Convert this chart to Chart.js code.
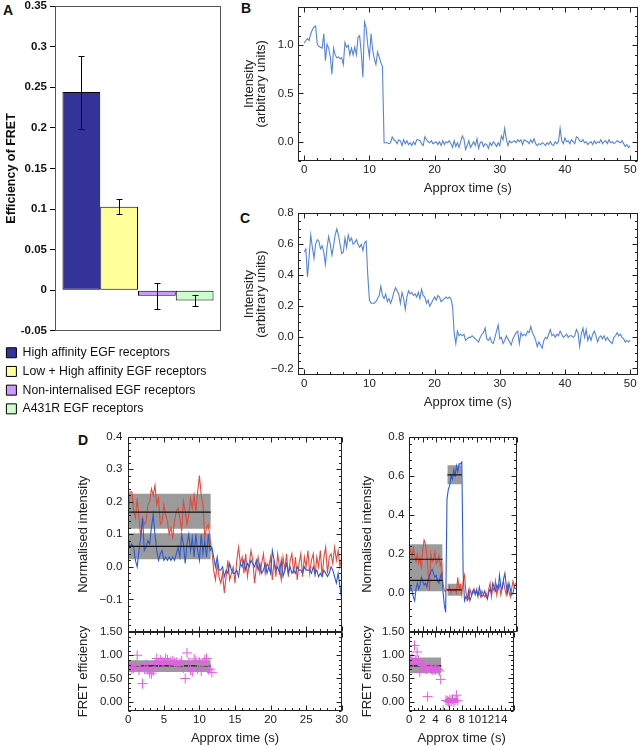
<!DOCTYPE html>
<html><head><meta charset="utf-8">
<script src="https://cdn.jsdelivr.net/npm/chart.js@4.4.1/dist/chart.umd.min.js"></script>
<style>
html,body{margin:0;padding:0;background:#fff;overflow:hidden;width:640px;height:746px;position:relative;}
canvas{position:absolute;}
.lbl{position:absolute;font:bold 14px 'Liberation Sans',Arial,sans-serif;line-height:14px;color:#111;}
</style></head><body>
<div class="lbl" style="left:3px;top:3px">A</div>
<div class="lbl" style="left:241px;top:1px">B</div>
<div class="lbl" style="left:240px;top:211px">C</div>
<div class="lbl" style="left:78px;top:433px">D</div>
<canvas id="cA"></canvas>
<canvas id="cB"></canvas>
<canvas id="cC"></canvas>
<canvas id="cDLT"></canvas>
<canvas id="cDLB"></canvas>
<canvas id="cDRT"></canvas>
<canvas id="cDRB"></canvas>
<script>
// ---------- Panel A data ----------
const aCategories = ['High affinity EGF receptors','Low + High affinity EGF receptors','Non-internalised EGF receptors','A431R EGF receptors'];
const aValues = [0.244, 0.103, -0.0068, -0.0127];
const aErrors = [0.045, 0.0093, 0.016, 0.007];
const aColors = ['#333399','#ffff99','#cc99ff','#ccffcc'];
const aTicks = [-0.05,0,0.05,0.1,0.15,0.2,0.25,0.3,0.35];

// ---------- Panel B data (0.25 s sampling) ----------
const bStep = 0.25;
const bIntensity = [
1.02,1.05,1.07,1.05,1.12,1.16,1.19,1.20,1.01,0.99,0.98,0.97,1.12,0.84,1.01,0.97,0.88,0.70,0.97,0.90,
0.87,0.88,0.86,0.87,0.80,1.03,0.98,1.00,0.90,0.97,0.90,0.98,0.90,1.08,1.10,0.92,0.67,1.24,1.18,1.00,
0.88,1.12,0.95,0.86,0.80,0.93,0.88,0.82,0.78,-0.01,-0.01,-0.01,-0.02,-0.01,0.05,0.02,0.01,-0.02,0.02,0.01,
-0.04,0.02,-0.02,0.01,-0.03,-0.01,-0.04,0.00,-0.03,0.02,0.02,0.01,-0.02,-0.04,0.05,0.02,0.00,-0.01,0.01,-0.02,
-0.01,0.00,-0.03,0.00,-0.04,0.01,-0.03,0.00,-0.01,0.01,-0.02,-0.06,0.01,-0.05,-0.01,-0.06,0.00,0.06,0.03,-0.08,
-0.04,0.01,-0.06,-0.03,0.00,-0.04,0.03,-0.07,-0.01,0.00,-0.05,-0.02,-0.03,-0.07,-0.01,-0.04,0.00,-0.02,-0.05,-0.01,
-0.04,0.06,0.02,0.14,0.03,-0.04,0.01,-0.01,0.00,0.01,-0.01,0.02,0.00,0.02,-0.03,0.02,0.01,0.00,-0.02,0.02,
-0.01,0.03,-0.02,-0.04,-0.02,-0.03,-0.01,-0.02,-0.04,-0.01,-0.03,0.00,-0.03,-0.04,0.00,-0.02,0.00,0.14,0.01,-0.02,
0.04,0.00,0.01,-0.02,0.02,0.00,-0.02,0.05,0.04,0.01,0.00,0.02,-0.01,0.00,-0.03,-0.01,0.00,-0.03,0.01,-0.02,
0.00,-0.01,0.02,-0.02,0.00,0.01,-0.02,0.02,-0.01,0.00,-0.02,-0.01,0.01,0.00,-0.01,0.01,-0.02,-0.05,-0.03,-0.06,
-0.04];
const bTicksX = [0,10,20,30,40,50];
const bTicksY = [0,0.5,1.0];

// ---------- Panel C data (0.25 s sampling) ----------
const cStep = 0.25;
const cIntensity = [
0.55,0.57,0.39,0.52,0.66,0.58,0.51,0.60,0.63,0.62,0.57,0.59,0.55,0.47,0.58,0.65,0.60,0.53,0.59,0.66,
0.70,0.66,0.60,0.54,0.55,0.64,0.58,0.66,0.62,0.64,0.60,0.61,0.63,0.60,0.58,0.60,0.56,0.61,0.62,0.40,
0.24,0.22,0.22,0.22,0.23,0.25,0.27,0.33,0.27,0.25,0.28,0.23,0.25,0.22,0.25,0.29,0.32,0.30,0.28,0.22,
0.29,0.25,0.18,0.26,0.30,0.28,0.29,0.27,0.28,0.26,0.29,0.25,0.31,0.27,0.26,0.22,0.24,0.20,0.22,0.24,
0.26,0.24,0.27,0.26,0.23,0.24,0.25,0.26,0.25,0.26,0.25,0.20,0.03,-0.04,0.04,0.01,0.02,0.01,0.02,-0.02,
-0.01,0.00,0.00,0.01,0.00,-0.01,-0.02,-0.03,0.00,0.02,0.03,0.06,-0.01,-0.02,0.00,-0.03,-0.04,0.00,0.04,0.08,
-0.01,0.00,-0.04,-0.02,0.01,-0.01,-0.03,-0.05,-0.01,0.01,0.03,0.04,-0.04,0.03,0.01,0.02,0.01,0.04,0.03,0.07,
0.03,0.01,-0.02,-0.06,-0.03,-0.05,-0.07,-0.02,0.00,-0.01,0.02,0.05,0.01,0.02,0.00,0.02,0.01,0.04,0.02,0.00,
0.01,0.02,0.00,0.01,0.01,0.00,0.01,0.05,0.03,-0.06,0.02,0.06,0.00,0.05,-0.02,0.01,-0.02,0.02,0.04,0.01,
-0.03,0.00,0.01,-0.01,0.01,-0.02,0.00,-0.02,-0.03,-0.04,0.00,0.01,0.03,0.01,0.02,0.00,-0.01,-0.03,-0.02,-0.03,
-0.02];
const cTicksY = [-0.2,0,0.2,0.4,0.6,0.8];

// ---------- Panel D left (0.25 s sampling) ----------
const dlStep = 0.25;
const dlRed = [
0.16,0.23,0.23,0.17,0.15,0.21,0.15,0.09,0.15,0.13,0.14,0.19,0.20,0.24,0.22,0.25,0.19,0.21,0.13,0.14,
0.19,0.16,0.14,0.10,0.12,0.09,0.14,0.17,0.18,0.15,0.11,0.20,0.17,0.13,0.16,0.21,0.18,0.22,0.17,0.23,
0.28,0.22,0.19,0.09,0.12,0.13,0.08,0.05,-0.01,-0.04,0.01,-0.03,-0.05,-0.02,-0.08,-0.03,0.02,-0.04,-0.02,0.00,
-0.05,0.02,0.06,0.01,0.03,-0.02,0.04,-0.03,0.01,0.05,0.02,-0.05,0.00,0.03,-0.02,0.01,0.04,-0.02,0.01,0.00,
0.03,-0.04,0.02,-0.03,0.04,0.00,-0.04,0.03,-0.01,0.04,-0.03,0.02,0.04,-0.02,0.03,-0.04,0.01,0.04,-0.03,0.03,
0.00,0.05,-0.02,0.02,0.04,-0.03,0.03,0.00,0.05,-0.03,0.03,0.06,-0.02,0.03,0.04,0.01,0.06,0.02,0.05,0.00,
0.03];
const dlBlue = [
0.09,0.06,0.07,0.06,0.02,0.00,0.05,0.09,0.15,0.05,0.06,0.08,0.07,0.12,0.16,0.10,0.05,0.02,0.04,0.05,
0.02,0.03,0.02,0.03,0.02,0.03,0.02,0.04,0.06,0.03,0.10,0.07,0.01,0.07,0.10,0.05,0.09,0.03,0.10,0.05,
0.02,0.10,0.04,0.08,0.03,0.10,0.05,0.06,0.03,0.00,0.03,-0.01,-0.01,0.00,-0.03,-0.01,-0.02,0.01,-0.01,-0.02,
-0.02,-0.01,-0.03,0.01,0.00,0.02,-0.01,0.01,0.00,0.02,0.01,0.00,0.02,-0.01,0.01,-0.02,-0.01,0.01,-0.02,0.00,
-0.02,0.05,0.02,-0.01,0.00,-0.02,0.02,-0.03,-0.01,0.01,-0.02,0.00,-0.02,-0.01,-0.02,0.00,-0.01,-0.01,-0.02,0.00,
-0.01,-0.01,-0.01,-0.02,0.00,-0.02,-0.01,-0.03,-0.02,-0.03,-0.01,-0.02,-0.03,-0.02,0.00,-0.01,-0.03,-0.05,-0.02,-0.06,
-0.10];
const dlFret = [
0.80,0.75,0.70,0.72,0.78,1.00,0.68,0.74,0.39,0.70,0.80,0.72,0.62,0.60,0.66,0.80,0.93,0.84,0.90,0.86,
0.80,0.93,0.90,0.82,0.86,0.88,0.84,0.85,0.78,0.83,0.88,0.73,0.50,1.05,0.84,0.68,0.65,0.92,0.88,0.70,
0.85,0.66,0.78,0.90,0.93,0.69,0.70,0.63];
const dlTopBands = [
  {from:0, to:11.6, low:0.117, high:0.224, means:[0.168]},
  {from:0, to:11.6, low:0.023, high:0.103, means:[0.063]}
];
const dlBotBands = [ {from:0, to:11.6, low:0.64, high:0.89, means:[0.77]} ];
const dlTicksX = [0,5,10,15,20,25,30];
const dlTopTicksY = [-0.1,0,0.1,0.2,0.3,0.4];
const dBotTicksY = [0,0.5,1.0,1.5];

// ---------- Panel D right (0.2 s sampling) ----------
const drStep = 0.2;
const drRed = [
0.20,0.22,0.18,0.23,0.19,0.16,0.20,0.15,0.18,0.12,
0.22,0.27,0.25,0.20,0.10,0.01,0.20,0.16,0.17,0.21,
0.15,0.16,0.19,0.14,0.16,0.05,0.01,0.01,0.02,0.01,
0.03,0.00,0.02,0.01,0.02,0.00,0.08,0.02,0.04,-0.01,
0.06,0.09,0.01,-0.04,-0.03,0.02,-0.01,0.01,0.00,0.00,
0.02,-0.01,0.00,-0.02,0.01,-0.01,-0.02,0.00,-0.03,0.02,
0.05,-0.02,0.03,0.01,0.06,-0.01,0.03,0.04,-0.01,0.03,
0.06,0.02,-0.01,0.04,0.01,-0.02,0.02,0.06,0.03,0.05];
const drBlue = [
0.00,0.03,0.01,-0.02,-0.04,0.02,0.05,0.02,0.04,0.08,
0.06,0.04,0.05,0.03,0.07,0.09,0.11,0.12,0.10,0.08,
0.09,0.06,0.05,0.08,0.10,0.01,-0.06,-0.10,0.48,0.53,
0.55,0.60,0.58,0.63,0.60,0.65,0.62,0.66,0.66,0.67,
0.10,-0.04,-0.02,-0.03,0.01,-0.04,-0.02,0.00,0.02,-0.01,
0.01,-0.02,0.03,0.00,-0.02,-0.01,0.01,-0.02,-0.03,0.00,
0.02,0.00,0.05,0.03,0.01,0.04,0.02,0.09,0.03,0.02,
0.07,0.10,0.04,0.00,0.05,0.02,-0.01,0.00,0.03,0.02];
const drFretTime = [0.0,0.2,0.4,0.6,0.8,1.0,1.2,1.4,1.6,1.8,2.0,2.2,2.4,2.6,2.8,3.0,3.2,3.4,3.6,3.8,4.0,4.2,4.4,4.6,4.8,5.2,5.6,5.8,6.0,6.2,6.4,6.6,6.8,7.0,7.2,7.4];
const drFret = [1.00,0.88,0.93,0.80,1.21,0.90,1.07,0.89,0.64,0.82,0.78,0.75,0.72,0.70,0.11,0.75,0.72,0.70,0.68,0.70,0.69,0.72,0.69,0.66,0.48,-0.18,0.03,0.02,0.00,0.04,0.01,0.05,-0.01,0.03,0.14,0.02];
const drTopBands = [
  {from:0, to:4.95, low:0.008, high:0.249, means:[0.172,0.064]},
  {from:5.65, to:7.8, low:0.556, high:0.653, means:[0.604]},
  {from:5.65, to:7.8, low:-0.014, high:0.047, means:[0.015]}
];
const drBotBands = [
  {from:0, to:4.9, low:0.61, high:0.95, means:[0.77]},
  {from:5.6, to:7.5, low:-0.03, high:0.08, means:[0.03]}
];
const drTicksX = [0,2,4,6,8,10,12,14];
const drTopTicksY = [0,0.2,0.4,0.6,0.8];

// ---------- plugins ----------
const framePlugin = {
  id: 'frame',
  afterDraw(chart, args, o) {
    if (!o || !o.on) return;
    const {ctx, chartArea: a} = chart;
    const L = Math.round(a.left) + 0.5, R = Math.round(a.right) - 0.5;
    const T = Math.round(a.top) + 0.5, B = Math.round(a.bottom) - 0.5;
    ctx.save();
    ctx.strokeStyle = o.color || '#222';
    ctx.lineWidth = 1;
    ctx.strokeRect(L, T, R - L, B - T);
    ctx.beginPath();
    if (o.xStep) {
      const s = chart.scales.x, sub = o.xStep / o.xSub;
      const k0 = Math.ceil(s.min / sub - 1e-6), k1 = Math.floor(s.max / sub + 1e-6);
      for (let k = k0; k <= k1; k++) {
        const v = k * sub, r = v / o.xStep;
        const len = Math.abs(r - Math.round(r)) < 1e-6 ? o.major : o.minor;
        const px = Math.round(s.getPixelForValue(v)) + 0.5;
        ctx.moveTo(px, B); ctx.lineTo(px, B - len);
        ctx.moveTo(px, T); ctx.lineTo(px, T + len);
      }
    }
    if (o.yStep) {
      const s = chart.scales.y, sub = o.yStep / o.ySub;
      const k0 = Math.ceil(s.min / sub - 1e-6), k1 = Math.floor(s.max / sub + 1e-6);
      for (let k = k0; k <= k1; k++) {
        const v = k * sub, r = v / o.yStep;
        const len = Math.abs(r - Math.round(r)) < 1e-6 ? o.major : o.minor;
        const py = Math.round(s.getPixelForValue(v)) + 0.5;
        ctx.moveTo(L, py); ctx.lineTo(L + len, py);
        ctx.moveTo(R, py); ctx.lineTo(R - len, py);
      }
    }
    ctx.stroke();
    ctx.restore();
  }
};
const errorBarPlugin = {
  id: 'errorBars',
  afterDatasetsDraw(chart, args, o) {
    if (!o || !o.errors) return;
    const {ctx} = chart, y = chart.scales.y;
    ctx.save(); ctx.strokeStyle = '#000'; ctx.lineWidth = 1;
    chart.data.datasets.forEach((ds, i) => {
      chart.getDatasetMeta(i).data.forEach((el, j) => {
        const v = ds.data[j], e = o.errors[i];
        const x = Math.round(el.x) + 0.5;
        const y1 = Math.round(y.getPixelForValue(v + e)) + 0.5, y2 = Math.round(y.getPixelForValue(v - e)) + 0.5;
        ctx.beginPath();
        ctx.moveTo(x, y1); ctx.lineTo(x, y2);
        ctx.moveTo(x - 3, y1); ctx.lineTo(x + 3, y1);
        ctx.moveTo(x - 3, y2); ctx.lineTo(x + 3, y2);
        ctx.stroke();
      });
    });
    ctx.restore();
  }
};
Chart.register(framePlugin, errorBarPlugin);
Chart.defaults.font.family = "'Liberation Sans', Arial, Helvetica, sans-serif";
Chart.defaults.color = '#222';

// ---------- helpers ----------
function place(id, g) {
  const cv = document.getElementById(id);
  cv.width = g.w; cv.height = g.h;
  cv.style.left = g.left + 'px'; cv.style.top = g.top + 'px';
  cv.style.width = g.w + 'px'; cv.style.height = g.h + 'px';
  return cv;
}
function noPad(sc) { sc.paddingTop = 0; sc.paddingBottom = 0; sc.paddingLeft = 0; sc.paddingRight = 0; }
const toXY = (xs, ys) => ys.map((y, i) => ({x: xs[i], y}));
const fmt1 = v => (v < -1e-9 ? '\u2212' : '') + Math.abs(v).toFixed(1);
const fmt2 = v => (v < -1e-9 ? '\u2212' : '') + Math.abs(v).toFixed(2);
function bandSets(bands, dottedIdx) {
  const out = [];
  bands.forEach((b, i) => {
    out.push({data: [{x: b.from, y: b.high}, {x: b.to, y: b.high}], fill: {target: {value: b.low}},
      backgroundColor: '#9b9b9b', borderColor: 'rgba(0,0,0,0)', borderWidth: 0, pointRadius: 0, order: 10});
    b.means.forEach(m => out.push({data: [{x: b.from, y: m}, {x: b.to, y: m}], borderColor: '#111',
      borderWidth: 1.2, borderDash: i === dottedIdx ? [2, 2] : [], pointRadius: 0, fill: false, order: 0}));
  });
  return out;
}
function traceSet(xs, ys, color, order) {
  return {data: toXY(xs, ys), borderColor: color, borderWidth: 1.1, pointRadius: 0, fill: false, order};
}
function fretSet(xs, ys) {
  return {data: toXY(xs, ys), showLine: false, pointStyle: 'cross', pointRadius: 5, pointBorderWidth: 1,
    pointBorderColor: '#e45ee4', pointBackgroundColor: '#e45ee4', borderColor: '#e45ee4', order: -1};
}
function lineChart(id, g, s) {
  const cv = place(id, g);
  return new Chart(cv, {
    type: 'line',
    data: {datasets: s.datasets},
    options: {
      responsive: false, animation: false, devicePixelRatio: 1, events: [],
      elements: {point: {radius: 0}, line: {tension: 0}},
      layout: {padding: {top: g.padTop, right: g.padRight, left: 0, bottom: 0}},
      plugins: {legend: {display: false}, tooltip: {enabled: false},
        frame: {on: true, color: '#222', major: 5, minor: 2.5, xStep: s.xStep, xSub: s.xSub, yStep: s.yStep, ySub: s.ySub}},
      scales: {
        x: {type: 'linear', min: s.xMin, max: s.xMax,
          afterBuildTicks: sc => { sc.ticks = s.xTicks.map(v => ({value: v})); },
          afterFit: sc => { sc.height = g.xHeight; noPad(sc); },
          grid: {display: false, drawTicks: false}, border: {display: false},
          ticks: {display: !!s.xTitle, padding: 2, autoSkip: false, maxRotation: 0, font: {size: 11.5}, callback: v => String(v)},
          title: {display: !!s.xTitle, text: s.xTitle || '', font: {size: 13}, padding: {top: 0, bottom: g.xTitlePad || 0}}},
        y: {type: 'linear', min: s.yMin, max: s.yMax,
          afterBuildTicks: sc => { sc.ticks = s.yTicks.map(v => ({value: v})); },
          afterFit: sc => { sc.width = g.yWidth; noPad(sc); },
          grid: {display: false, drawTicks: false}, border: {display: false},
          ticks: {padding: g.yPad, autoSkip: false, font: {size: 11.5}, callback: s.yFmt},
          title: {display: true, text: s.yTitle, font: {size: 13, lineHeight: s.yTitleLH || 1.2}, padding: {top: 4, bottom: 0}}}
      }
    }
  });
}

// ---------- Panel A ----------
new Chart(place('cA', {left: 0, top: -1, w: 230, h: 426}), {
  type: 'bar',
  data: {labels: [''], datasets: aCategories.map((name, i) => ({label: name, data: [aValues[i]],
    backgroundColor: aColors[i], borderColor: '#000', borderWidth: 1, borderSkipped: false,
    categoryPercentage: 0.91, barPercentage: 1}))},
  options: {
    responsive: false, animation: false, devicePixelRatio: 1, events: [],
    layout: {padding: {top: 7, right: 9, left: 0, bottom: 0}},
    plugins: {
      tooltip: {enabled: false},
      legend: {display: true, position: 'bottom', align: 'start',
        labels: {boxWidth: 10, boxHeight: 10, padding: 6.4, font: {size: 12.3}, color: '#111'}},
      errorBars: {errors: aErrors},
      frame: {on: true, color: '#555'}
    },
    scales: {
      x: {display: true, grid: {display: false, drawTicks: false}, border: {display: false}, ticks: {display: false},
        afterFit: sc => { sc.height = 9.3; noPad(sc); }},
      y: {min: -0.05, max: 0.35,
        afterBuildTicks: sc => { sc.ticks = aTicks.map(v => ({value: v})); },
        afterFit: sc => { sc.width = 55; noPad(sc); },
        ticks: {font: {size: 11.5, weight: 'bold'}, color: '#111', padding: 3, callback: v => String(+v.toFixed(2))},
        grid: {drawOnChartArea: false, drawTicks: true, tickLength: 5, color: '#000'},
        border: {display: true, color: '#000'},
        title: {display: true, text: 'Efficiency of FRET', font: {size: 12.5, weight: 'bold'}, color: '#111', padding: {top: 4, bottom: 0}}}
    }
  }
});

// ---------- Panel B ----------
const bTime = bIntensity.map((_, i) => i * bStep);
lineChart('cB', {left: 239, top: 0, w: 401, h: 198, padTop: 6.7, padRight: 2, yWidth: 58.7, xHeight: 37, xTitlePad: 2, yPad: 4}, {
  xMin: -1, xMax: 51.2, yMin: -0.2, yMax: 1.4, xTicks: bTicksX, yTicks: bTicksY, yFmt: fmt1,
  xStep: 10, xSub: 5, yStep: 0.5, ySub: 5,
  xTitle: 'Approx time (s)', yTitle: ['Intensity', '(arbitrary units)'], yTitleLH: '12px',
  datasets: [traceSet(bTime, bIntensity, '#5585d8', 1)]
});

// ---------- Panel C ----------
const cTime = cIntensity.map((_, i) => i * cStep);
lineChart('cC', {left: 239, top: 203, w: 401, h: 209, padTop: 10.3, padRight: 2, yWidth: 58.7, xHeight: 37, xTitlePad: 2, yPad: 4}, {
  xMin: -1, xMax: 51.2, yMin: -0.243, yMax: 0.8, xTicks: bTicksX, yTicks: cTicksY, yFmt: fmt1,
  xStep: 10, xSub: 5, yStep: 0.2, ySub: 4,
  xTitle: 'Approx time (s)', yTitle: ['Intensity', '(arbitrary units)'], yTitleLH: '12px',
  datasets: [traceSet(cTime, cIntensity, '#5585d8', 1)]
});

// ---------- Panel D left ----------
const dlTime = dlRed.map((_, i) => i * dlStep);
const dlFretTime = dlFret.map((_, i) => i * dlStep);
lineChart('cDLT', {left: 72, top: 426, w: 278, h: 206, padTop: 10.5, padRight: 8.3, yWidth: 56.3, xHeight: 0, yPad: 6}, {
  xMin: 0, xMax: 30, yMin: -0.2, yMax: 0.4, xTicks: dlTicksX, yTicks: dlTopTicksY, yFmt: fmt1,
  xStep: 5, xSub: 5, yStep: 0.1, ySub: 5,
  yTitle: 'Normalised intensity',
  datasets: [...bandSets(dlTopBands, -1), traceSet(dlTime, dlRed, '#e34a3b', 2), traceSet(dlTime, dlBlue, '#2a5ad8', 1)]
});
lineChart('cDLB', {left: 72, top: 622, w: 278, h: 124, padTop: 10, padRight: 8.3, yWidth: 56.3, xHeight: 35, xTitlePad: 0, yPad: 6}, {
  xMin: 0, xMax: 30, yMin: -0.2, yMax: 1.5, xTicks: dlTicksX, yTicks: dBotTicksY, yFmt: fmt2,
  xStep: 5, xSub: 5, yStep: 0.5, ySub: 5,
  xTitle: 'Approx time (s)', yTitle: 'FRET efficiency',
  datasets: [...bandSets(dlBotBands, -1), fretSet(dlFretTime, dlFret)]
});

// ---------- Panel D right ----------
const drTime = drRed.map((_, i) => i * drStep);
lineChart('cDRT', {left: 356, top: 426, w: 164, h: 206, padTop: 10.5, padRight: 3, yWidth: 53.3, xHeight: 0, yPad: 5}, {
  xMin: 0, xMax: 16, yMin: -0.2, yMax: 0.8, xTicks: drTicksX, yTicks: drTopTicksY, yFmt: fmt1,
  xStep: 2, xSub: 3, yStep: 0.2, ySub: 5,
  yTitle: 'Normalised intensity',
  datasets: [...bandSets(drTopBands, -1), traceSet(drTime, drRed, '#e34a3b', 2), traceSet(drTime, drBlue, '#2a5ad8', 1)]
});
lineChart('cDRB', {left: 356, top: 622, w: 164, h: 124, padTop: 10, padRight: 3, yWidth: 53.3, xHeight: 35, xTitlePad: 0, yPad: 5}, {
  xMin: 0, xMax: 16, yMin: -0.2, yMax: 1.5, xTicks: drTicksX, yTicks: dBotTicksY, yFmt: fmt2,
  xStep: 2, xSub: 3, yStep: 0.5, ySub: 5,
  xTitle: 'Approx time (s)', yTitle: 'FRET efficiency',
  datasets: [...bandSets(drBotBands, 1), fretSet(drFretTime, drFret)]
});
</script>
</body></html>
